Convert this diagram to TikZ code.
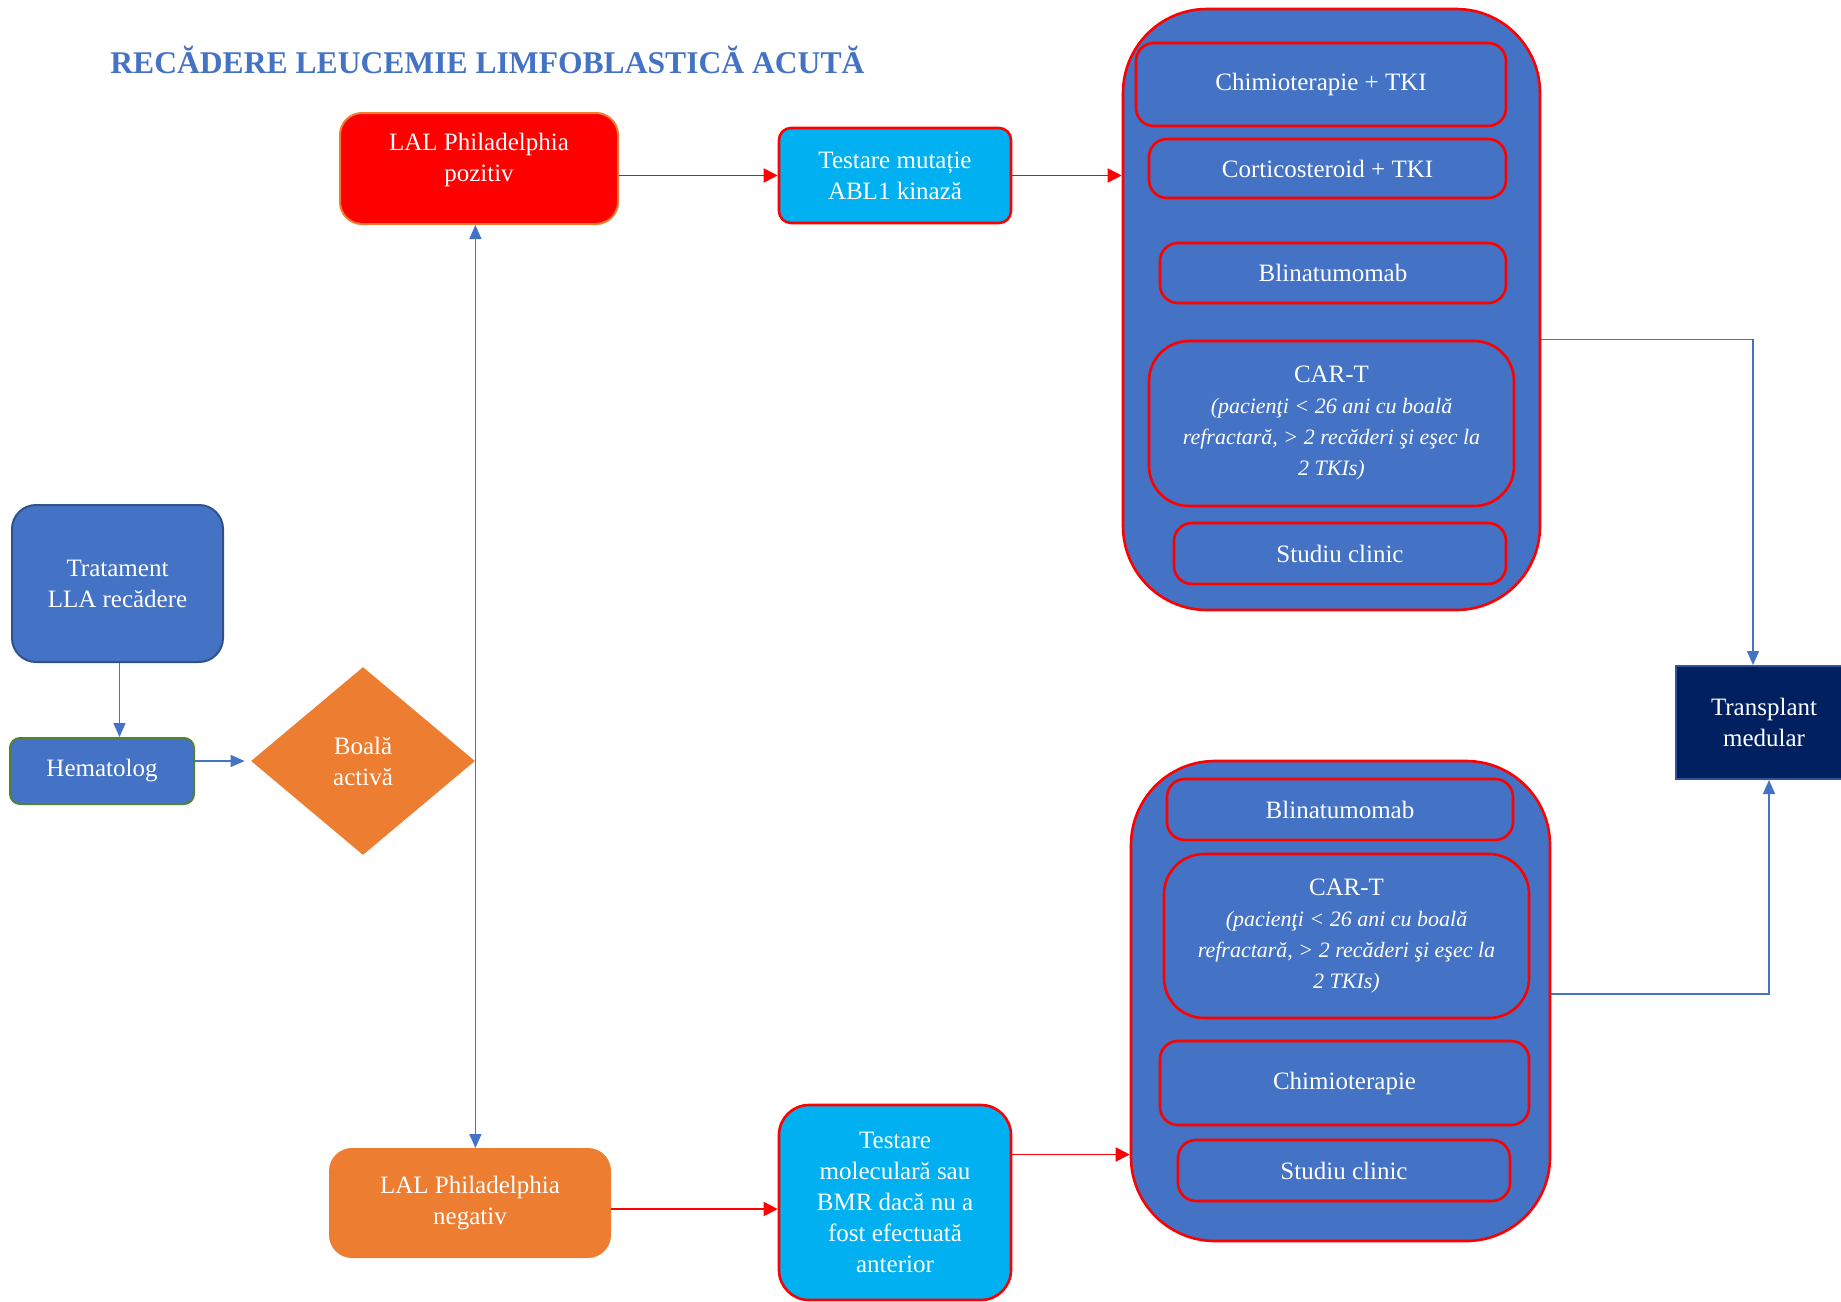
\documentclass[tikz,border=0pt]{standalone}
\usepackage{fontspec}
\setmainfont{Liberation Serif}
\usetikzlibrary{shapes.geometric, arrows.meta, positioning}

\definecolor{albastru}{HTML}{4472C4}
\definecolor{albastrui}{HTML}{2F528F}
\definecolor{rosu}{HTML}{FF0000}
\definecolor{cian}{HTML}{00B0F0}
\definecolor{portocaliu}{HTML}{ED7D31}
\definecolor{verde}{HTML}{548235}
\definecolor{bleumarin}{HTML}{002060}
\definecolor{marginetr}{HTML}{2F5597}

\newcommand{\detaliu}[1]{{\itshape\fontsize{11}{15.5}\selectfont #1}}

\begin{document}
\begin{tikzpicture}[x=0.5pt, y=-0.5pt,
  every node/.style={text=white, align=center, font=\fontsize{12.5}{15.5}\selectfont},
  cutie/.style={rectangle, rounded corners=9pt, draw=rosu, line width=1.3pt, fill=albastru},
  grup/.style={rectangle, rounded corners=42pt, draw=rosu, line width=1.3pt, fill=albastru},
  sageata/.style={draw=albastru, line width=0.75pt, -{Triangle[length=7pt, width=6pt]}},
  sageatar/.style={draw=rosu, line width=0.9pt, -{Triangle[length=7pt, width=7pt]}}]

  \useasboundingbox (0,0) rectangle (1841,1301);

  \node[anchor=west, inner sep=0pt, text=albastru, font=\bfseries\fontsize{15.8}{18}\selectfont] (titlu) at (110,60)
    {RECĂDERE LEUCEMIE LIMFOBLASTICĂ ACUTĂ};

  % stanga
  \node[rectangle, rounded corners=12pt, fill=albastru, draw=albastrui, line width=1pt,
    minimum width=105.5pt, minimum height=78.5pt] (tratament) at (117.5,583.5) {Tratament\\ LLA recădere};
  \node[rectangle, rounded corners=5pt, fill=albastru, draw=verde, line width=1pt,
    minimum width=92pt, minimum height=33pt] (hematolog) at (102,771) {Hematolog};
  \node[diamond, fill=portocaliu, inner sep=0pt, minimum width=112pt, minimum height=94pt]
    (boala) at (363,761) {Boală\\ activă};

  % ramura Ph+
  \node[rectangle, rounded corners=11pt, fill=rosu, draw=portocaliu, line width=1pt, text depth=11pt,
    minimum width=139pt, minimum height=55.5pt] (phpoz) at (479,168.5) {LAL Philadelphia\\ pozitiv};
  \node[rectangle, rounded corners=6pt, fill=cian, draw=rosu, line width=1.3pt,
    minimum width=116pt, minimum height=47.5pt] (testabl) at (895,175.5) {Testare mutație\\ ABL1 kinază};

  \node[grup, minimum width=208.5pt, minimum height=300.5pt] (grup1) at (1331.5,309.5) {};
  \node[cutie, minimum width=185pt, minimum height=41.5pt] (chimtki) at (1321,84.5) {Chimioterapie + TKI};
  \node[cutie, minimum width=178.5pt, minimum height=29.5pt] (corttki) at (1327.5,168.5) {Corticosteroid + TKI};
  \node[cutie, minimum width=173pt, minimum height=30pt] (blina1) at (1333,273) {Blinatumomab};
  \node[cutie, rounded corners=20pt, minimum width=182.5pt, minimum height=82.5pt] (cart1) at (1331.5,423.5)
    {CAR-T\\ \detaliu{(pacienţi < 26 ani cu boală}\\ \detaliu{refractară, > 2 recăderi şi eşec la}\\ \detaliu{2 TKIs)}};
  \node[cutie, minimum width=166pt, minimum height=30.5pt] (studiu1) at (1340,553.5) {Studiu clinic};

  % ramura Ph-
  \node[rectangle, rounded corners=11pt, fill=portocaliu, draw=portocaliu, line width=1pt,
    minimum width=140pt, minimum height=54pt] (phneg) at (470,1203) {LAL Philadelphia\\ negativ};
  \node[rectangle, rounded corners=15pt, fill=cian, draw=rosu, line width=1.3pt,
    minimum width=116pt, minimum height=97.5pt] (testmol) at (895,1202.5)
    {Testare\\ moleculară sau\\ BMR dacă nu a\\ fost efectuată\\ anterior};

  \node[grup, minimum width=209.5pt, minimum height=240pt] (grup2) at (1340.5,1001) {};
  \node[cutie, minimum width=173pt, minimum height=30.5pt] (blina2) at (1340,809.5) {Blinatumomab};
  \node[cutie, rounded corners=20pt, minimum width=182.5pt, minimum height=82pt] (cart2) at (1346.5,936)
    {CAR-T\\ \detaliu{(pacienţi < 26 ani cu boală}\\ \detaliu{refractară, > 2 recăderi şi eşec la}\\ \detaliu{2 TKIs)}};
  \node[cutie, minimum width=184.5pt, minimum height=42pt] (chimio) at (1344.5,1083) {Chimioterapie};
  \node[cutie, minimum width=166pt, minimum height=30.5pt] (studiu2) at (1344,1170.5) {Studiu clinic};

  \node[rectangle, fill=bleumarin, draw=marginetr, line width=1pt,
    minimum width=88pt, minimum height=56.5pt] (transplant) at (1764,722.5) {Transplant\\ medular};

  % legaturi
  \draw[sageata] ([xshift=1pt]tratament.south) -- ([xshift=1pt]tratament.south |- hematolog.north);
  \draw[sageata, shorten >=3pt] (hematolog.east |- boala.west) -- (boala.west);
  \draw[sageata] (boala.east) -- (boala.east |- phpoz.south);
  \draw[sageata] (boala.east) -- (boala.east |- phneg.north);
  \draw[sageatar] (testabl.west -| phpoz.east) -- (testabl.west);
  \draw[sageatar] (testabl.east) -- (testabl.east -| grup1.west);
  \draw[sageatar] ([yshift=-3pt]phneg.east) -- ([yshift=-3pt]phneg.east -| testmol.west);
  \draw[sageatar] ([yshift=24pt]testmol.east) -- ([yshift=24pt]testmol.east -| grup2.west);
  \draw[sageata] (cart1.north -| grup1.east) -| ([xshift=-5.5pt]transplant.north);
  \draw[sageata] ([yshift=3.5pt]grup2.east) -| ([xshift=2.5pt]transplant.south);
\end{tikzpicture}
\end{document}
